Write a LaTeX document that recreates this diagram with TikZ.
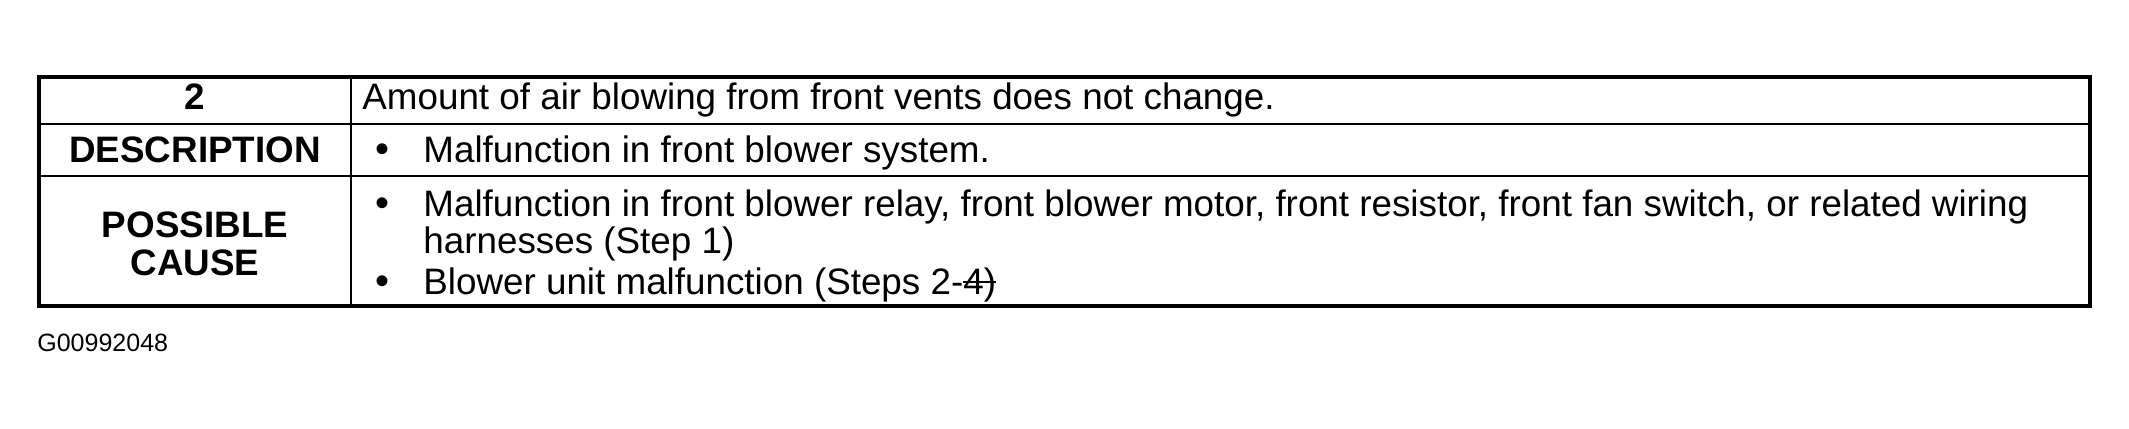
\documentclass[tikz,border=0pt]{standalone}
\usepackage{fontspec}
\setmainfont{Liberation Sans}
\newsavebox\strkbox
\newcommand\strkout[1]{\sbox\strkbox{#1}\rlap{\rule[0.29em]{\wd\strkbox}{0.06em}}\usebox\strkbox}
\begin{document}
\begin{tikzpicture}[x=0.5pt,y=-0.5pt,
  txt/.style={inner sep=0pt,font=\fontsize{18.4}{21}\selectfont},
  lbl/.style={inner sep=0pt,font=\fontsize{18.4}{21}\selectfont\bfseries},
  bul/.style={inner sep=0pt,font=\fontsize{20}{21}\selectfont},
  code/.style={inner sep=0pt,font=\fontsize{12.5}{14}\selectfont},
  cell/.style={line width=1pt},
  frame/.style={line width=2pt}]
\useasboundingbox (0,0) rectangle (2129,428);
\draw[cell] (39,124) -- (2090,124);
\draw[cell] (39,176) -- (2090,176);
\draw[cell] (351,77) -- (351,306);
\draw[frame] (39,77) rectangle (2090,306);
\node[lbl,anchor=base] (num) at (195,109) {2};
\node[lbl,anchor=base] (desc) at (195,162) {DESCRIPTION};
\node[lbl,anchor=base] (poss) at (195,237) {POSSIBLE};
\node[lbl,anchor=base] (cause) at (195,275) {CAUSE};
\node[txt,anchor=base west] (t1) at (362,109) {Amount of air blowing from front vents does not change.};
\node[bul,anchor=base] (b1) at (382,162) {•};
\node[txt,anchor=base west] (t2) at (423,162) {Malfunction in front blower system.};
\node[bul,anchor=base] (b2) at (382,216) {•};
\node[txt,anchor=base west] (t3a) at (423,216) {Malfunction in front blower relay, front blower motor, front resistor, front fan switch, or related wiring};
\node[txt,anchor=base west] (t3b) at (423,253) {harnesses (Step 1)};
\node[bul,anchor=base] (b3) at (382,294) {•};
\node[txt,anchor=base west] (t3c) at (423,294) {Blower unit malfunction (Steps 2-\strkout{4)}};
\node[code,anchor=base west] (gcode) at (37,351) {G00992048};
\end{tikzpicture}
\end{document}
